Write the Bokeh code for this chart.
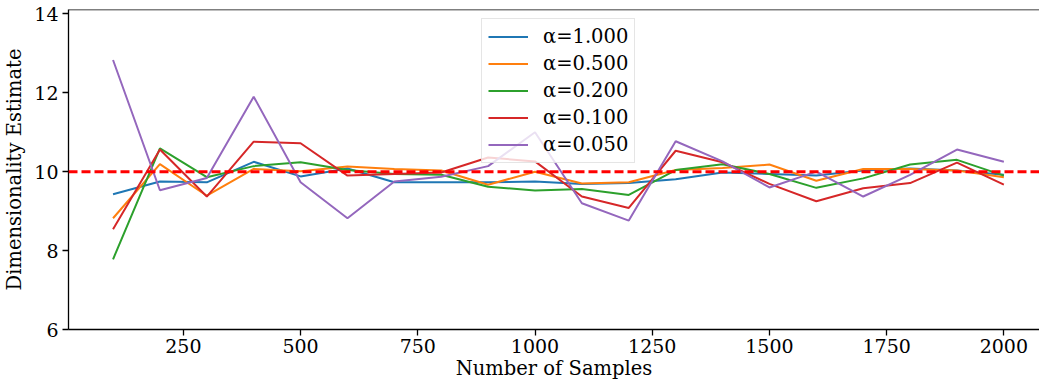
from bokeh.plotting import figure
from bokeh.models import Span, Legend, LegendItem, FixedTicker, Range1d
from bokeh.embed import file_html
from bokeh.resources import INLINE

samples = [100, 200, 300, 400, 500, 600, 700, 800, 900, 1000,
           1100, 1200, 1300, 1400, 1500, 1600, 1700, 1800, 1900, 2000]

alpha_labels = ["α=1.000", "α=0.500", "α=0.200", "α=0.100", "α=0.050"]

est_a1000 = [9.43, 9.75, 9.73, 10.25, 9.88, 10.08, 9.73, 9.73, 9.73, 9.75,
             9.69, 9.71, 9.81, 9.98, 9.94, 9.90, 10.03, 10.08, 10.03, 9.92]
est_a0500 = [8.82, 10.19, 9.39, 10.07, 10.01, 10.13, 10.07, 10.03, 9.67, 10.0,
             9.70, 9.73, 10.04, 10.09, 10.18, 9.77, 10.07, 10.07, 10.03, 9.86]
est_a0200 = [7.78, 10.59, 9.86, 10.14, 10.24, 10.04, 9.94, 9.92, 9.62, 9.52,
             9.56, 9.41, 10.04, 10.19, 9.94, 9.59, 9.83, 10.18, 10.30, 9.90]
est_a0100 = [8.54, 10.56, 9.37, 10.76, 10.72, 9.90, 9.94, 9.98, 10.36, 10.26,
             9.37, 9.08, 10.53, 10.24, 9.69, 9.25, 9.58, 9.71, 10.23, 9.67]
est_a0050 = [12.83, 9.53, 9.84, 11.90, 9.73, 8.82, 9.75, 9.87, 10.14, 11.0,
             9.20, 8.76, 10.77, 10.26, 9.60, 10.0, 9.37, 9.92, 10.56, 10.25]

true_dim = 10
x_ticks = [250, 500, 750, 1000, 1250, 1500, 1750, 2000]
y_ticks = [6, 8, 10, 12, 14]

series = [est_a1000, est_a0500, est_a0200, est_a0100, est_a0050]
colors = ["#1f77b4", "#ff7f0e", "#2ca02c", "#d62728", "#9467bd"]

FONT = "DejaVu Serif"

p = figure(width=1039, height=383, output_backend="svg", toolbar_location=None,
           x_range=Range1d(5, 2076), y_range=Range1d(6, 14.11),
           min_border_left=64, min_border_right=0, min_border_top=9,
           min_border_bottom=54)
p.outline_line_color = None
p.xgrid.visible = False
p.ygrid.visible = False

items = []
for lab, ys, c in zip(alpha_labels, series, colors):
    r = p.line(samples, ys, line_color=c, line_width=2)
    items.append(LegendItem(label=lab, renderers=[r]))

p.add_layout(Span(location=true_dim, dimension="width", line_color="red",
                  line_width=3, line_dash="9 4"))
p.add_layout(Span(location=14.11, dimension="width", line_color="black",
                  line_width=1.3))

for ax in (p.xaxis[0], p.yaxis[0]):
    ax.axis_line_color = "black"
    ax.axis_line_width = 1.3
    ax.major_tick_line_color = "black"
    ax.major_tick_line_width = 1.3
    ax.major_tick_out = 6
    ax.major_tick_in = 0
    ax.minor_tick_line_color = None
    ax.major_label_text_font = FONT
    ax.major_label_text_font_size = "19px"
    ax.major_label_text_color = "black"
    ax.axis_label_text_font = FONT
    ax.axis_label_text_font_size = "19.5px"
    ax.axis_label_text_font_style = "normal"
    ax.axis_label_text_color = "black"

p.xaxis[0].ticker = FixedTicker(ticks=x_ticks)
p.yaxis[0].ticker = FixedTicker(ticks=y_ticks)
p.xaxis[0].axis_label = "Number of Samples"
p.yaxis[0].axis_label = "Dimensionality Estimate"
p.xaxis[0].major_label_standoff = 3
p.xaxis[0].axis_label_standoff = 1
p.yaxis[0].major_label_standoff = 4
p.yaxis[0].axis_label_standoff = 5

legend = Legend(items=items, location=(413, 166))
legend.label_text_font = FONT
legend.label_text_font_size = "19.5px"
legend.label_text_color = "black"
legend.label_height = 21
legend.glyph_height = 21
legend.glyph_width = 40
legend.label_standoff = 15
legend.spacing = 4
legend.padding = 6
legend.margin = 0
legend.border_line_color = "#cccccc"
legend.border_line_width = 1
legend.background_fill_alpha = 0.8
p.add_layout(legend)

open("out.html", "w").write(file_html(p, INLINE))
